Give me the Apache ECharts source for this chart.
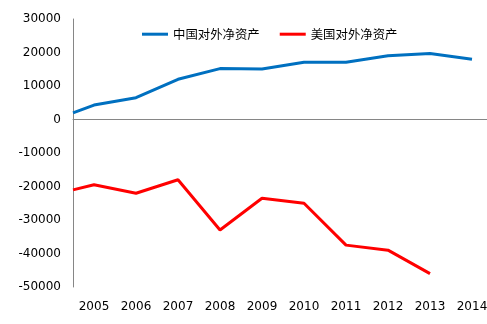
<!DOCTYPE html>
<html>
<head>
<meta charset="utf-8">
<script src="https://cdn.jsdelivr.net/npm/echarts@6/dist/echarts.min.js"></script>
<style>html,body{margin:0;padding:0;background:#fff;}#c{width:487px;height:324px;}</style>
</head>
<body>
<div id="c"></div>
<script>
var categories = ['2005','2006','2007','2008','2009','2010','2011','2012','2013','2014'];
var chinaYears = [2004.5, 2005, 2006, 2007, 2008, 2009, 2010, 2011, 2012, 2013, 2014];
var chinaValues = [2000, 4300, 6500, 12000, 15200, 15100, 17100, 17100, 19000, 19700, 18000];
var usYears = [2004.5, 2005, 2006, 2007, 2008, 2009, 2010, 2011, 2012, 2013];
var usValues = [-21000, -19500, -22000, -18000, -33000, -23500, -25000, -37500, -39000, -46000];
var seriesNames = ['中国对外净资产', '美国对外净资产'];

function pairs(xs, ys) { return xs.map(function (x, i) { return [x, ys[i]]; }); }

var chart = echarts.init(document.getElementById('c'));
chart.setOption({
  animation: false,
  textStyle: { fontFamily: 'DejaVu Sans' },
  legend: {
    left: 142, top: 28, padding: 0,
    icon: 'rect',
    itemWidth: 26, itemHeight: 3, itemGap: 20,
    textStyle: { fontSize: 12.4, color: '#000', fontFamily: 'Noto Sans CJK SC' },
    data: seriesNames
  },
  grid: { left: 73, width: 420, top: 19, bottom: 37, containLabel: false, outerBoundsMode: 'none' },
  xAxis: [{
    type: 'category',
    data: categories,
    boundaryGap: true,
    position: 'bottom',
    axisLine: { show: false, onZero: false },
    axisTick: { show: false },
    axisLabel: { fontSize: 12, color: '#000', margin: 14, interval: 0 },
    splitLine: { show: false }
  }, {
    type: 'value',
    min: 2004.5, max: 2014.5,
    axisLine: { show: true, onZero: true, lineStyle: { color: '#868686', width: 1 } },
    axisTick: { show: false },
    axisLabel: { show: false },
    splitLine: { show: false }
  }],
  yAxis: {
    type: 'value',
    min: -50000, max: 30000, interval: 10000,
    axisLine: { show: true, onZero: false, lineStyle: { color: '#868686', width: 1 } },
    axisTick: { show: false },
    axisLabel: { fontSize: 12, color: '#000', margin: 12, formatter: function (v) { return String(v); } },
    splitLine: { show: false }
  },
  series: [{
    name: seriesNames[0], type: 'line', xAxisIndex: 1,
    data: pairs(chinaYears, chinaValues),
    symbol: 'none', color: '#0070C0',
    lineStyle: { width: 3, color: '#0070C0' }
  }, {
    name: seriesNames[1], type: 'line', xAxisIndex: 1,
    data: pairs(usYears, usValues),
    symbol: 'none', color: '#FF0000',
    lineStyle: { width: 3, color: '#FF0000' }
  }]
});
</script>
</body>
</html>
